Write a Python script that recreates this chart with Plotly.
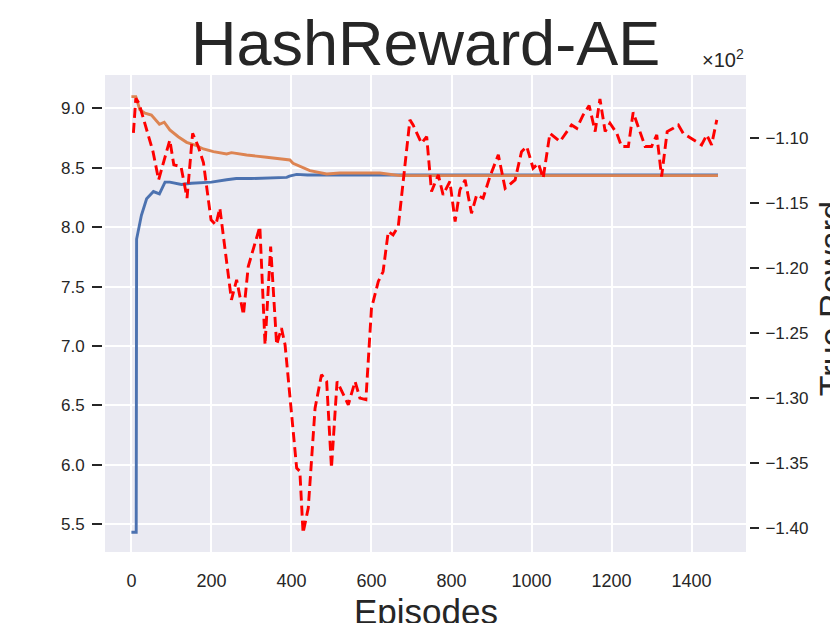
"""HashReward-AE: reward curves over training episodes."""
import plotly.graph_objects as go

# blue curve (left axis)
blue_ep = [0, 12, 13, 25, 38, 55, 70, 84, 96, 125, 150, 200, 238, 262, 300, 388, 395, 413, 440, 500, 1466]
blue_val = [5.43, 5.43, 7.90, 8.10, 8.24, 8.30, 8.28, 8.38, 8.38, 8.36, 8.37, 8.38, 8.40, 8.41, 8.41, 8.42,
            8.43, 8.445, 8.44, 8.44, 8.44]

# orange curve (left axis)
orange_ep = [0, 11, 21, 34, 50, 70, 82, 96, 117, 138, 159, 180, 205, 238, 250, 288, 338, 396, 404, 430,
             446, 488, 521, 621, 671, 1466]
orange_val = [9.10, 9.10, 8.99, 8.96, 8.945, 8.867, 8.884, 8.819, 8.762, 8.715, 8.692, 8.659, 8.636, 8.617,
              8.628, 8.608, 8.589, 8.566, 8.538, 8.496, 8.476, 8.448, 8.457, 8.457, 8.434, 8.434]

# true reward (right axis)
true_ep = [5, 11, 19, 54, 68, 96, 106, 124, 139, 153, 167, 180, 199, 211, 221, 250, 263, 280, 292, 321,
           334, 348, 363, 375, 384, 413, 421, 429, 442, 459, 475, 488, 500, 503, 514, 542, 559, 571, 586,
           600, 617, 629, 642, 654, 667, 696, 704, 725, 738, 750, 767, 779, 796, 809, 821, 834, 850, 863,
           879, 896, 917, 934, 959, 975, 988, 1004, 1017, 1029, 1046, 1071, 1100, 1113, 1129, 1144, 1159,
           1171, 1184, 1196, 1213, 1225, 1242, 1254, 1271, 1284, 1300, 1313, 1325, 1339, 1354, 1367, 1379,
           1404, 1425, 1438, 1450, 1463]
true_reward = [-109.6, -106.94, -107.33, -111.04, -113.21, -110.15, -112.06, -112.19, -114.61, -109.63,
               -110.65, -111.88, -116.28, -116.67, -115.38, -122.43, -120.89, -123.58, -119.87, -116.80,
               -125.89, -118.34, -125.89, -124.61, -125.89, -135.37, -135.62, -140.36, -138.44, -130.76,
               -128.19, -128.71, -135.37, -133.83, -128.71, -130.50, -128.71, -129.99, -130.11, -123.08,
               -121.02, -120.26, -117.18, -117.44, -116.80, -108.60, -108.99, -110.40, -109.88, -114.11,
               -112.83, -114.36, -113.34, -116.41, -113.98, -113.21, -115.78, -114.36, -114.62, -112.96,
               -111.29, -113.86, -113.21, -111.04, -110.65, -112.32, -111.94, -113.09, -109.63, -110.27,
               -108.99, -109.25, -108.22, -107.50, -109.50, -106.99, -109.50, -108.86, -109.63, -110.65,
               -110.65, -108.02, -109.50, -110.65, -110.65, -109.75, -112.96, -109.50, -109.25, -108.99,
               -109.63, -110.14, -110.52, -109.75, -110.52, -108.60]

left_ticks = [5.5, 6.0, 6.5, 7.0, 7.5, 8.0, 8.5, 9.0]
right_ticks = [-1.40, -1.35, -1.30, -1.25, -1.20, -1.15, -1.10]
x_ticks = [0, 200, 400, 600, 800, 1000, 1200, 1400]

TXT = "#262626"
FONT = "Liberation Sans, Arial, sans-serif"

fig = go.Figure()
fig.add_trace(go.Scatter(x=blue_ep, y=blue_val, mode="lines",
                         line=dict(color="#4C72B0", width=2.9), yaxis="y"))
fig.add_trace(go.Scatter(x=orange_ep, y=orange_val, mode="lines",
                         line=dict(color="#DD8452", width=2.9), yaxis="y"))
fig.add_trace(go.Scatter(x=true_ep, y=[v / 100 for v in true_reward], mode="lines",
                         line=dict(color="#FF0000", width=2.9, dash="10px,5px"), yaxis="y2"))

fig.update_layout(
    width=830, height=623,
    margin=dict(l=102, r=81, t=75, b=71, autoexpand=False),
    paper_bgcolor="white", plot_bgcolor="#EAEAF2",
    showlegend=False,
    font=dict(family=FONT, color=TXT, size=17),
    xaxis=dict(domain=[3 / 647, 644 / 647], range=[-66, 1536], tickvals=x_ticks,
               showgrid=True, gridcolor="white", gridwidth=1.6, zeroline=False,
               ticks="outside", ticklen=12, tickcolor="rgba(0,0,0,0)",
               tickfont=dict(size=18), showline=False, automargin=False),
    yaxis=dict(range=[5.264, 9.282], tickvals=left_ticks, tickformat=".1f",
               showgrid=True, gridcolor="white", gridwidth=1.6, zeroline=False,
               ticks="outside", ticklen=10, tickwidth=1.5, tickcolor=TXT, ticklabelstandoff=4,
               anchor="free", position=0, showline=False, automargin=False),
    yaxis2=dict(range=[-1.4182, -1.0515], tickvals=right_ticks, tickformat=".2f",
                overlaying="y", side="right", showgrid=False, zeroline=False,
                ticks="outside", ticklen=9, tickwidth=1.5, tickcolor=TXT, ticklabelstandoff=3,
                anchor="free", position=1, showline=False, automargin=False),
)

fig.add_annotation(text="HashReward-AE", xref="paper", yref="paper", x=0.5, y=1,
                   xanchor="center", yanchor="bottom", yshift=-5, showarrow=False,
                   font=dict(size=63, color=TXT, family=FONT))
fig.add_annotation(text="×10<sup>2</sup>", xref="paper", yref="paper", x=644 / 647, y=1,
                   xanchor="right", yanchor="bottom", yshift=2, showarrow=False,
                   font=dict(size=20, color=TXT, family=FONT))
fig.add_annotation(text="Episodes", xref="paper", yref="paper", x=0.5, y=-38 / 477,
                   xanchor="center", yanchor="top", showarrow=False,
                   font=dict(size=35, color=TXT, family=FONT))
fig.add_annotation(text="True Reward", xref="paper", yref="paper", x=(810 - 102) / 647, y=0.53,
                   xanchor="left", yanchor="middle", textangle=-90, showarrow=False,
                   font=dict(size=34, color=TXT, family=FONT))

# drop the browser's default 8px page margin so the figure sits at the window corner
fig.write_html("out.html", config={"displayModeBar": False},
               post_script="document.body.style.margin='0';")
